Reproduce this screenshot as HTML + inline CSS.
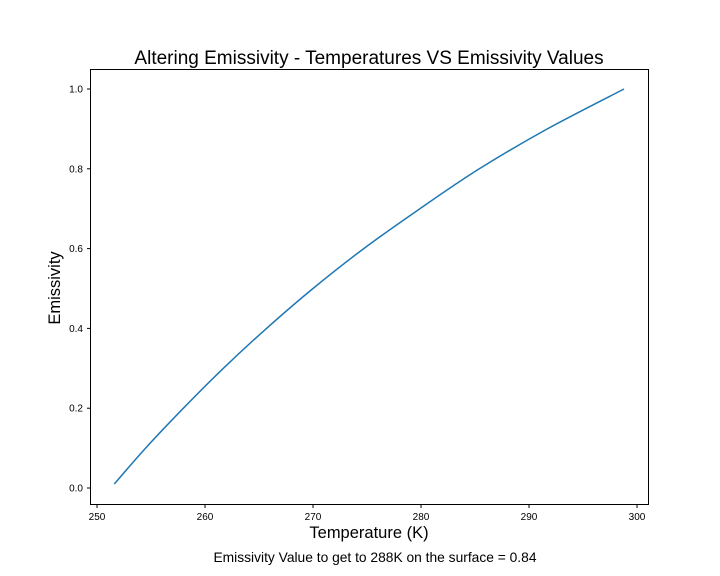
<!DOCTYPE html>
<html><head><meta charset="utf-8"><style>
body{margin:0;background:#fff;}
svg{display:block;font-family:"Liberation Sans","DejaVu Sans",sans-serif;}
</style></head><body>
<svg id="chart" width="720" height="576">
<rect width="720" height="576" fill="#fff"/>
<text x="369" y="64" font-size="19" text-anchor="middle">Altering Emissivity - Temperatures VS Emissivity Values</text>
<text x="369" y="538" font-size="16.5" text-anchor="middle">Temperature (K)</text>
<text transform="translate(60,288) rotate(-90)" font-size="16.5" text-anchor="middle">Emissivity</text>
<text x="375" y="562" font-size="13.8" text-anchor="middle">Emissivity Value to get to 288K on the surface = 0.84</text>
<g id="ticks"></g>
<path id="line" fill="none" stroke="#1f77b4" stroke-width="1.5"/>
<rect x="90.5" y="69.5" width="558" height="435" fill="none" stroke="#000" stroke-width="1"/>
</svg>
<script>
const temperatures=[251.6,254.5,258.0,261.7,265.7,270.0,274.7,279.9,285.4,291.7,298.8];
const emissivities=[0.01,0.1,0.2,0.3,0.4,0.5,0.6,0.7,0.8,0.9,1.0];
const xTicks=[250,260,270,280,290,300];
const yTicks=[0.0,0.2,0.4,0.6,0.8,1.0];
const ns="http://www.w3.org/2000/svg";
function xs(t){return 97+(t-250)*10.8;}
function ys(e){return 488-e*399;}
const P=temperatures.map((t,i)=>[xs(t),ys(emissivities[i])]);
let d="M"+P[0][0].toFixed(2)+","+P[0][1].toFixed(2);
for(let i=0;i<P.length-1;i++){
 const p0=P[Math.max(0,i-1)],p1=P[i],p2=P[i+1],p3=P[Math.min(P.length-1,i+2)];
 const c1=[p1[0]+(p2[0]-p0[0])/6,p1[1]+(p2[1]-p0[1])/6];
 const c2=[p2[0]-(p3[0]-p1[0])/6,p2[1]-(p3[1]-p1[1])/6];
 d+="C"+c1[0].toFixed(2)+","+c1[1].toFixed(2)+" "+c2[0].toFixed(2)+","+c2[1].toFixed(2)+" "+p2[0].toFixed(2)+","+p2[1].toFixed(2);
}
document.getElementById("line").setAttribute("d",d);
const g=document.getElementById("ticks");
xTicks.forEach(v=>{
 const x=xs(v);
 const l=document.createElementNS(ns,"line");
 l.setAttribute("x1",x);l.setAttribute("x2",x);l.setAttribute("y1",504.5);l.setAttribute("y2",508);l.setAttribute("stroke","#000");
 
 
 g.appendChild(l);
 const t=document.createElementNS(ns,"text");
 t.setAttribute("x",x);t.setAttribute("y",520);t.setAttribute("font-size","10");t.setAttribute("text-anchor","middle");
 t.textContent=v;
 
 
 g.appendChild(t);
});
yTicks.forEach(v=>{
 const y=ys(v);
 const l=document.createElementNS(ns,"line");
 l.setAttribute("x1",87);l.setAttribute("x2",90.5);l.setAttribute("y1",y);l.setAttribute("y2",y);l.setAttribute("stroke","#000");
 
 
 g.appendChild(l);
 const t=document.createElementNS(ns,"text");
 t.setAttribute("x",83);t.setAttribute("y",y+3.5);t.setAttribute("font-size","10");t.setAttribute("text-anchor","end");
 t.textContent=v.toFixed(1);
 
 
 g.appendChild(t);
});
</script>
</body></html>
